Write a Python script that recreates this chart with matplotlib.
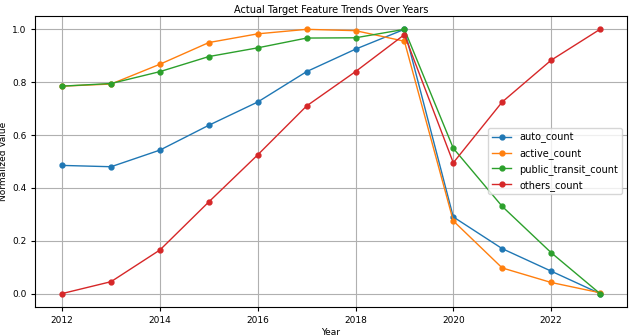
import matplotlib
matplotlib.use('Agg')
import matplotlib.pyplot as plt

years = list(range(2012, 2024))
auto_count = [0.485, 0.480, 0.543, 0.637, 0.725, 0.840, 0.925, 1.000, 0.290, 0.170, 0.085, 0.000]
active_count = [0.785, 0.793, 0.868, 0.950, 0.983, 1.000, 0.995, 0.955, 0.275, 0.097, 0.042, 0.003]
public_transit_count = [0.785, 0.795, 0.840, 0.897, 0.930, 0.967, 0.968, 1.000, 0.550, 0.330, 0.155, 0.000]
others_count = [0.000, 0.045, 0.165, 0.347, 0.525, 0.710, 0.840, 0.980, 0.495, 0.725, 0.883, 1.000]

series = {
    'auto_count': auto_count,
    'active_count': active_count,
    'public_transit_count': public_transit_count,
    'others_count': others_count,
}


def main():
    fig, ax = plt.subplots(figsize=(6.3, 3.36), dpi=100)
    for name, values in series.items():
        ax.plot(years, values, marker='o', markersize=3.5, linewidth=1, label=name)
    ax.set_title('Actual Target Feature Trends Over Years', fontsize=7, pad=2)
    ax.set_xlabel('Year', fontsize=6.5, labelpad=2)
    ax.set_ylabel('Normalized Value', fontsize=6.5, labelpad=3)
    ax.tick_params(labelsize=6.5, length=3)
    ax.set_xticks([2012, 2014, 2016, 2018, 2020, 2022])
    ax.grid(True)
    ax.legend(fontsize=7, loc='center right')
    fig.subplots_adjust(left=0.056, right=0.995, top=0.952, bottom=0.087)
    fig.savefig('out.png')


if __name__ == '__main__':
    main()
